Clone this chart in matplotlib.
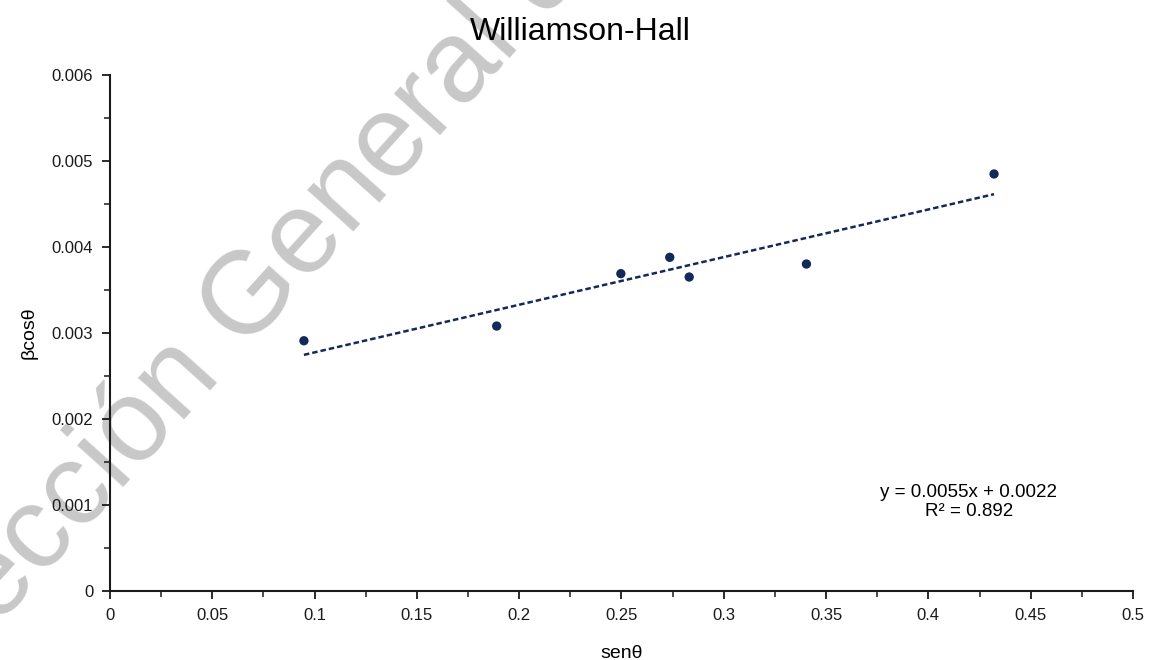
import numpy as np
import matplotlib
matplotlib.use("Agg")
import matplotlib.pyplot as plt
from matplotlib.ticker import MultipleLocator, FuncFormatter

plt.rcParams['font.family'] = ['Liberation Sans', 'DejaVu Sans']

# Data
sen_theta = [0.0948, 0.1890, 0.2497, 0.2736, 0.2831, 0.3404, 0.4321]
beta_cos = [0.002910, 0.003081, 0.003690, 0.003880, 0.003651, 0.003802, 0.004849]
title = "Williamson-Hall"
xlabel = "senθ"
ylabel = "βcosθ"
eq_text = "y = 0.0055x + 0.0022\nR² = 0.892"
watermark = "ección General de"

navy = '#13295a'

fig = plt.figure(figsize=(11.6, 6.6), dpi=100)
ax = fig.add_axes([0.0948, 0.1045, 0.8819, 0.7819])
ax.patch.set_alpha(0)

x = np.array(sen_theta)
y = np.array(beta_cos)
m, b = np.polyfit(x, y, 1)
xl = np.array([x.min(), x.max()])
ax.plot(xl, m * xl + b, linestyle=(0, (2.2, 1.2)), color=navy, lw=1.8, zorder=2)
ax.scatter(x, y, s=45, color=navy, zorder=3, edgecolors='none')

ax.set_xlim(0, 0.5)
ax.set_ylim(0, 0.006)
ax.xaxis.set_major_locator(MultipleLocator(0.05))
ax.xaxis.set_minor_locator(MultipleLocator(0.025))
ax.yaxis.set_major_locator(MultipleLocator(0.001))
ax.yaxis.set_minor_locator(MultipleLocator(0.0005))
fmt = FuncFormatter(lambda v, p: "0" if abs(v) < 1e-12 else ("%g" % round(v, 6)))
ax.xaxis.set_major_formatter(fmt)
ax.yaxis.set_major_formatter(fmt)

for s in ['top', 'right']:
    ax.spines[s].set_visible(False)
for s in ['left', 'bottom']:
    ax.spines[s].set_linewidth(1.5)
    ax.spines[s].set_color('#1a1a1a')
ax.tick_params(which='major', direction='out', length=6, width=1.3, labelsize=12,
               colors='#1a1a1a', pad=6)
ax.tick_params(which='minor', direction='out', length=4, width=1.1, colors='#1a1a1a')

ax.set_xlabel(xlabel, fontsize=14, labelpad=16)
ax.set_ylabel(ylabel, fontsize=14, labelpad=10)
fig.text(0.5, 0.952, title, ha='center', va='center', fontsize=23)

ax.text(0.4198, 0.00104, eq_text, ha='center', va='center', fontsize=13.5,
        linespacing=1.15)

fig.text(-0.002, 0.05, watermark, fontsize=84, color='#c8c8c8',
         rotation=48, ha='left', va='baseline', rotation_mode='anchor',
         zorder=-1)

fig.savefig("out.png", dpi=100)
